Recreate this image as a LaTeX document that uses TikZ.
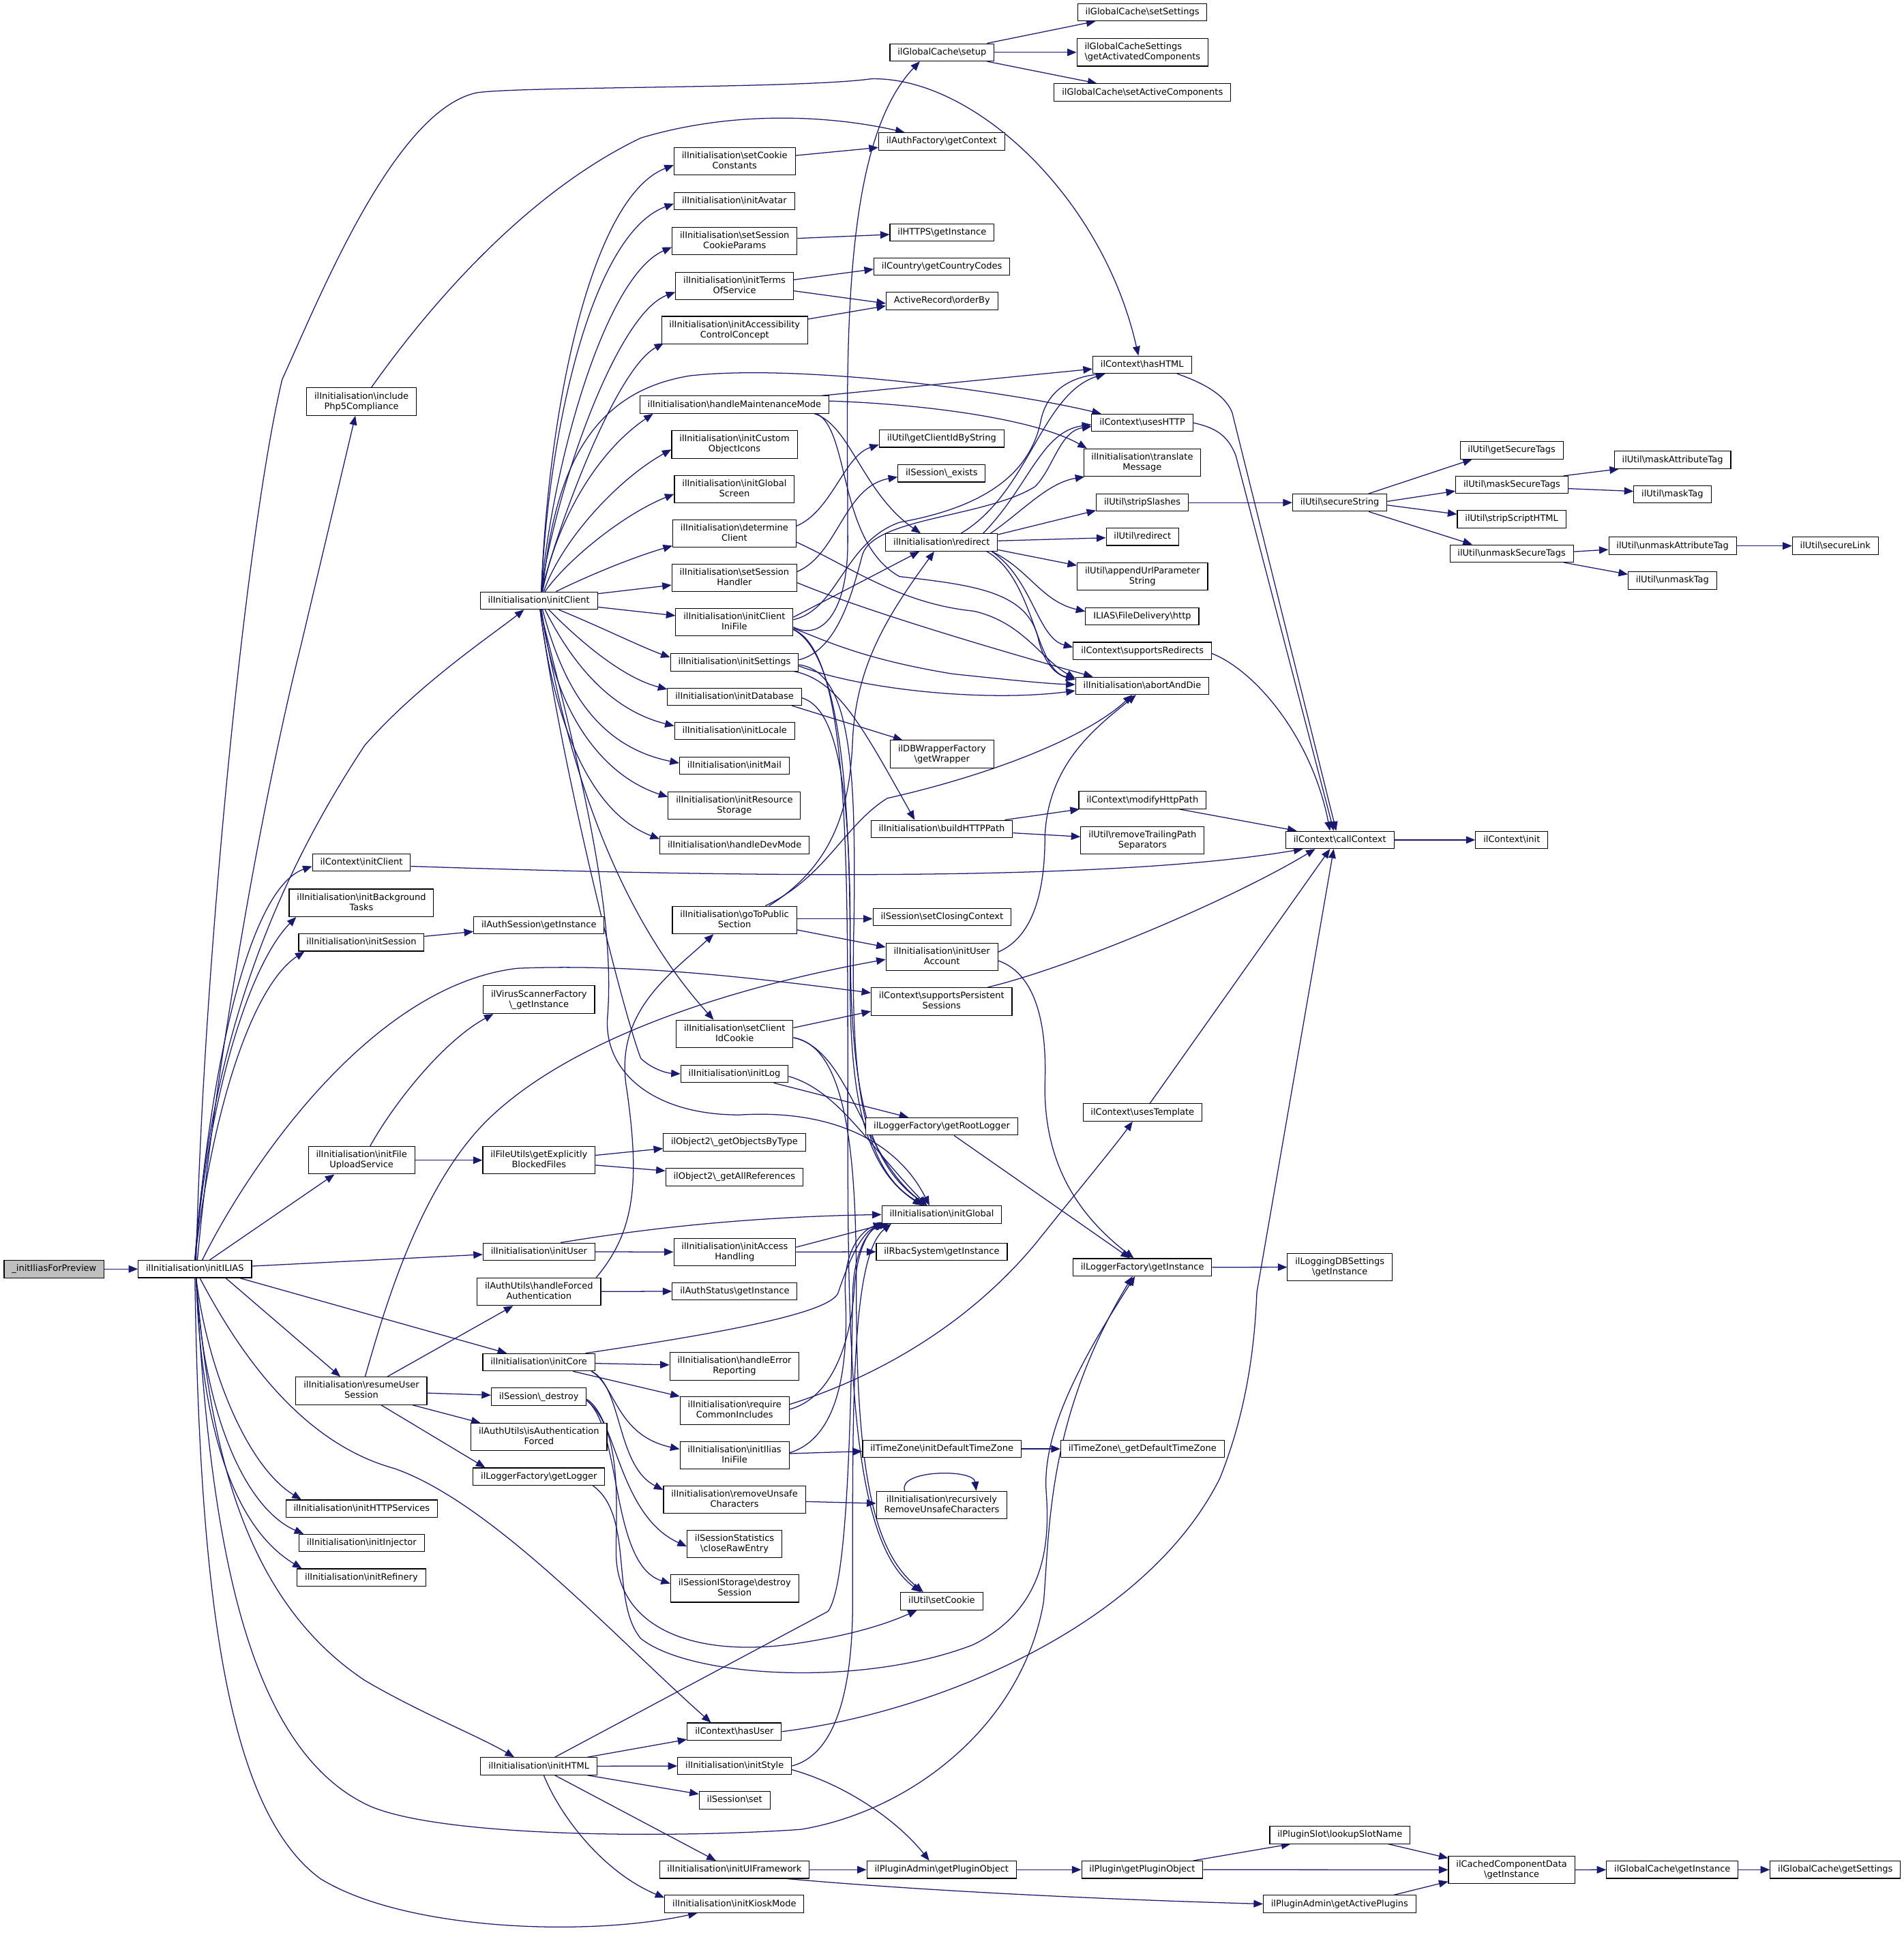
\documentclass[tikz,border=0pt]{standalone}
\usepackage{fontspec}
\setmainfont{DejaVu Sans}
\usetikzlibrary{arrows.meta}
\definecolor{navy}{HTML}{191970}
\definecolor{greyroot}{HTML}{BFBFBF}
\newcommand\bs{\textbackslash}
\newcommand\sst{\rule[-1.6pt]{0pt}{7.1pt}}
\pgfdeclarelayer{bglayer}
\pgfdeclarelayer{edgelayer}
\pgfsetlayers{bglayer,edgelayer,main}
\tikzset{
  nd/.style={draw=black, line width=0.6pt, fill=white, inner xsep=6.3pt, inner ysep=3.5pt,
    font=\fontsize{7.2}{8.3}\selectfont, align=center},
  edg/.style={draw=navy, line width=0.7pt, -{Triangle[length=7.5pt,width=6pt]}}
}
\begin{document}
\begin{tikzpicture}[x=1pt,y=-1pt]
\begin{pgfonlayer}{bglayer}
\path[use as bounding box, fill=white] (0,0) rectangle (1545,1569.3);
\end{pgfonlayer}
% ---------- nodes ----------
\node[nd,fill=greyroot] (root) at (43.9,1030.1) {\_initIliasForPreview\sst};
\node[nd] (initILIAS) at (158.2,1030.1) {ilInitialisation\bs initILIAS\sst};
% column C
\node[nd] (php5) at (293.4,326) {ilInitialisation\bs include\sst\\Php5Compliance\sst};
\node[nd] (ctxInitClient) at (293.3,700.2) {ilContext\bs initClient\sst};
\node[nd] (bgTasks) at (293.3,732.9) {ilInitialisation\bs initBackground\sst\\Tasks\sst};
\node[nd] (initSession) at (293.3,765) {ilInitialisation\bs initSession\sst};
\node[nd] (fileUpload) at (293.4,941.8) {ilInitialisation\bs initFile\sst\\UploadService\sst};
\node[nd] (resumeUser) at (293.3,1129) {ilInitialisation\bs resumeUser\sst\\Session\sst};
\node[nd] (httpServ) at (293.5,1224.6) {ilInitialisation\bs initHTTPServices\sst};
\node[nd] (injector) at (293.5,1252.5) {ilInitialisation\bs initInjector\sst};
\node[nd] (refinery) at (293.3,1280.5) {ilInitialisation\bs initRefinery\sst};
% column D
\node[nd] (initClient) at (437.3,487.5) {ilInitialisation\bs initClient\sst};
\node[nd] (authSession) at (437.4,751.1) {ilAuthSession\bs getInstance\sst};
\node[nd] (virus) at (437.4,811.5) {ilVirusScannerFactory\sst\\\bs\_getInstance\sst};
\node[nd] (fileUtils) at (437.4,941.8) {ilFileUtils\bs getExplicitly\sst\\BlockedFiles\sst};
\node[nd] (initUser) at (437.4,1016) {ilInitialisation\bs initUser\sst};
\node[nd] (forcedAuth) at (437.4,1048.5) {ilAuthUtils\bs handleForced\sst\\Authentication\sst};
\node[nd] (initCore) at (437.3,1105.8) {ilInitialisation\bs initCore\sst};
\node[nd] (sessDestroy) at (437.3,1133.8) {ilSession\bs\_destroy\sst};
\node[nd] (isAuthForced) at (437.4,1166.5) {ilAuthUtils\bs isAuthentication\sst\\Forced\sst};
\node[nd] (getLogger) at (437.4,1198.6) {ilLoggerFactory\bs getLogger\sst};
\node[nd] (initHTML) at (437.3,1433.7) {ilInitialisation\bs initHTML\sst};
% column E
\node[nd] (setCookieConst) at (596.2,131) {ilInitialisation\bs setCookie\sst\\Constants\sst};
\node[nd] (initAvatar) at (596,163.3) {ilInitialisation\bs initAvatar\sst};
\node[nd] (setSessCookie) at (596.2,195.6) {ilInitialisation\bs setSession\sst\\CookieParams\sst};
\node[nd] (initTerms) at (596.1,232.1) {ilInitialisation\bs initTerms\sst\\OfService\sst};
\node[nd] (initAccess) at (596.2,268) {ilInitialisation\bs initAccessibility\sst\\ControlConcept\sst};
\node[nd] (maint) at (596,328.5) {ilInitialisation\bs handleMaintenanceMode\sst};
\node[nd] (customIcons) at (596.1,360.8) {ilInitialisation\bs initCustom\sst\\ObjectIcons\sst};
\node[nd] (globalScreen) at (596,397) {ilInitialisation\bs initGlobal\sst\\Screen\sst};
\node[nd] (determineClient) at (596,433) {ilInitialisation\bs determine\sst\\Client\sst};
\node[nd] (sessHandler) at (596,469) {ilInitialisation\bs setSession\sst\\Handler\sst};
\node[nd] (clientIni) at (596,505) {ilInitialisation\bs initClient\sst\\IniFile\sst};
\node[nd] (initSettings) at (596.1,537.6) {ilInitialisation\bs initSettings\sst};
\node[nd] (initDatabase) at (596.1,565.5) {ilInitialisation\bs initDatabase\sst};
\node[nd] (initLocale) at (596.2,593.3) {ilInitialisation\bs initLocale\sst};
\node[nd] (initMail) at (596,621.4) {ilInitialisation\bs initMail\sst};
\node[nd] (resStorage) at (596,653.9) {ilInitialisation\bs initResource\sst\\Storage\sst};
\node[nd] (devMode) at (596.2,686) {ilInitialisation\bs handleDevMode\sst};
\node[nd] (goToPublic) at (596.1,746.8) {ilInitialisation\bs goToPublic\sst\\Section\sst};
\node[nd] (clientIdCookie) at (596.2,839.3) {ilInitialisation\bs setClient\sst\\IdCookie\sst};
\node[nd] (initLog) at (596.1,871.7) {ilInitialisation\bs initLog\sst};
\node[nd] (objByType) at (596,927.3) {ilObject2\bs\_getObjectsByType\sst};
\node[nd] (allRefs) at (596,955.4) {ilObject2\bs\_getAllReferences\sst};
\node[nd] (accessHandling) at (596.3,1016.4) {ilInitialisation\bs initAccess\sst\\Handling\sst};
\node[nd] (authStatus) at (596.3,1048.1) {ilAuthStatus\bs getInstance\sst};
\node[nd] (errorRep) at (596.1,1109) {ilInitialisation\bs handleError\sst\\Reporting\sst};
\node[nd] (commonInc) at (596.2,1145) {ilInitialisation\bs require\sst\\CommonIncludes\sst};
\node[nd] (iliasIni) at (596.1,1181.3) {ilInitialisation\bs initIlias\sst\\IniFile\sst};
\node[nd] (removeUnsafe) at (596.1,1217.4) {ilInitialisation\bs removeUnsafe\sst\\Characters\sst};
\node[nd] (closeRaw) at (596.1,1253.3) {ilSessionStatistics\sst\\\bs closeRawEntry\sst};
\node[nd] (destroySess) at (596.2,1289.4) {ilSessionIStorage\bs destroy\sst\\Session\sst};
\node[nd] (hasUser) at (596,1405.6) {ilContext\bs hasUser\sst};
\node[nd] (initStyle) at (596.2,1433.5) {ilInitialisation\bs initStyle\sst};
\node[nd] (sessSet) at (596.2,1461.3) {ilSession\bs set\sst};
\node[nd] (uiFramework) at (596,1517.7) {ilInitialisation\bs initUIFramework\sst};
\node[nd] (kiosk) at (596,1545.5) {ilInitialisation\bs initKioskMode\sst};
% column F
\node[nd] (gcSetup) at (764.5,42.5) {ilGlobalCache\bs setup\sst};
\node[nd] (authFactory) at (764.2,114.8) {ilAuthFactory\bs getContext\sst};
\node[nd] (https) at (764.5,188.6) {ilHTTPS\bs getInstance\sst};
\node[nd] (country) at (764.4,216.5) {ilCountry\bs getCountryCodes\sst};
\node[nd] (orderBy) at (764.5,244.3) {ActiveRecord\bs orderBy\sst};
\node[nd] (clientIdByString) at (764.2,356) {ilUtil\bs getClientIdByString\sst};
\node[nd] (sessExists) at (764.2,384.2) {ilSession\bs\_exists\sst};
\node[nd] (redirectI) at (764.2,440.3) {ilInitialisation\bs redirect\sst};
\node[nd] (dbWrapper) at (764.5,612.2) {ilDBWrapperFactory\sst\\\bs getWrapper\sst};
\node[nd] (buildPath) at (764.3,672.9) {ilInitialisation\bs buildHTTPPath\sst};
\node[nd] (closingCtx) at (764.5,744.3) {ilSession\bs setClosingContext\sst};
\node[nd] (userAccount) at (764.4,776.8) {ilInitialisation\bs initUser\sst\\Account\sst};
\node[nd] (persistent) at (764.2,812.9) {ilContext\bs supportsPersistent\sst\\Sessions\sst};
\node[nd] (rootLogger) at (764.3,914.4) {ilLoggerFactory\bs getRootLogger\sst};
\node[nd] (initGlobal) at (764.3,985.9) {ilInitialisation\bs initGlobal\sst};
\node[nd] (rbac) at (764.3,1016) {ilRbacSystem\bs getInstance\sst};
\node[nd] (initTZ) at (764.4,1176.1) {ilTimeZone\bs initDefaultTimeZone\sst};
\node[nd] (recursive) at (764.3,1221.7) {ilInitialisation\bs recursively\sst\\RemoveUnsafeCharacters\sst};
\node[nd] (setCookie) at (764.3,1299.7) {ilUtil\bs setCookie\sst};
\node[nd] (pluginObj) at (764.2,1517.7) {ilPluginAdmin\bs getPluginObject\sst};
% column G
\node[nd] (gcSetSettings) at (927.1,9.9) {ilGlobalCache\bs setSettings\sst};
\node[nd,align=left] (gcActivated) at (927.2,42.5) {ilGlobalCacheSettings\sst\\\bs getActivatedComponents\sst};
\node[nd] (gcSetActive) at (927.2,75) {ilGlobalCache\bs setActiveComponents\sst};
\node[nd] (hasHTML) at (926.9,296) {ilContext\bs hasHTML\sst};
\node[nd] (usesHTTP) at (927.1,343.2) {ilContext\bs usesHTTP\sst};
\node[nd] (translate) at (927,375.5) {ilInitialisation\bs translate\sst\\Message\sst};
\node[nd] (stripSlashes) at (927.1,408) {ilUtil\bs stripSlashes\sst};
\node[nd] (utilRedirect) at (927.2,435.7) {ilUtil\bs redirect\sst};
\node[nd] (appendUrl) at (927.2,468) {ilUtil\bs appendUrlParameter\sst\\String\sst};
\node[nd] (fileDelivery) at (927,500.3) {ILIAS\bs FileDelivery\bs http\sst};
\node[nd] (suppRedirects) at (927.1,528.4) {ilContext\bs supportsRedirects\sst};
\node[nd] (abort) at (927,556.7) {ilInitialisation\bs abortAndDie\sst};
\node[nd] (modifyPath) at (927.2,649.5) {ilContext\bs modifyHttpPath\sst};
\node[nd] (removeTrailing) at (927.2,682) {ilUtil\bs removeTrailingPath\sst\\Separators\sst};
\node[nd] (usesTemplate) at (927.2,903) {ilContext\bs usesTemplate\sst};
\node[nd] (loggerInst) at (927.1,1028.7) {ilLoggerFactory\bs getInstance\sst};
\node[nd] (getDefTZ) at (927.2,1176.1) {ilTimeZone\bs\_getDefaultTimeZone\sst};
\node[nd] (pluginGetObj) at (927,1517.7) {ilPlugin\bs getPluginObject\sst};
% column H
\node[nd] (secureString) at (1087.3,408) {ilUtil\bs secureString\sst};
\node[nd] (callContext) at (1087.4,681.8) {ilContext\bs callContext\sst};
\node[nd] (loggingDB) at (1087.4,1028.6) {ilLoggingDBSettings\sst\\\bs getInstance\sst};
\node[nd] (lookupSlot) at (1087.4,1489.5) {ilPluginSlot\bs lookupSlotName\sst};
\node[nd] (activePlugins) at (1087.2,1545.5) {ilPluginAdmin\bs getActivePlugins\sst};
% column I
\node[nd] (getSecureTags) at (1226.8,365.5) {ilUtil\bs getSecureTags\sst};
\node[nd] (maskSecureTags) at (1227,393.6) {ilUtil\bs maskSecureTags\sst};
\node[nd] (stripScript) at (1226.8,421.4) {ilUtil\bs stripScriptHTML\sst};
\node[nd] (unmaskSecureTags) at (1226.8,449.3) {ilUtil\bs unmaskSecureTags\sst};
\node[nd] (ctxInit) at (1226.9,681.8) {ilContext\bs init\sst};
\node[nd] (cachedComp) at (1226.8,1517.8) {ilCachedComponentData\sst\\\bs getInstance\sst};
% column J
\node[nd] (maskAttr) at (1357.4,373.3) {ilUtil\bs maskAttributeTag\sst};
\node[nd] (maskTag) at (1357.3,401.3) {ilUtil\bs maskTag\sst};
\node[nd] (unmaskAttr) at (1357.4,443.1) {ilUtil\bs unmaskAttributeTag\sst};
\node[nd] (unmaskTag) at (1357.3,471.2) {ilUtil\bs unmaskTag\sst};
\node[nd] (gcGetInstance) at (1357.2,1517.7) {ilGlobalCache\bs getInstance\sst};
% column K
\node[nd] (secureLink) at (1489.5,443.1) {ilUtil\bs secureLink\sst};
\node[nd] (gcGetSettings) at (1489.5,1517.7) {ilGlobalCache\bs getSettings\sst};

% ---------- edges ----------
\begin{pgfonlayer}{edgelayer}
\draw[edg] (root) -- (initILIAS);
% initILIAS
\draw[edg] ([xshift=2pt]initILIAS.north) .. controls (175,860) and (215,640) .. (244,525) -- ([xshift=-5pt]php5.south);
\draw[edg] ([xshift=1pt]initILIAS.north) .. controls (165,780) and (200,430) .. (229,308) .. controls (260,240) and (320,90) .. (386.7,75.3) .. controls (420,70) and (650,72) .. (707,64) .. controls (790,62) and (895,160) .. ([xshift=-3pt]hasHTML.north);
\draw[edg] (initILIAS.north) .. controls (172,850) and (205,720) .. ([yshift=-3pt]ctxInitClient.west);
\draw[edg] (initILIAS.north) .. controls (170,880) and (205,780) .. ([xshift=6pt]bgTasks.south west);
\draw[edg] (initILIAS.north) .. controls (172,900) and (205,800) .. ([xshift=5pt]initSession.south west);
\draw[edg] (initILIAS.north) .. controls (170,850) and (220,720) .. (296,605) .. controls (340,555) and (400,515) .. ([xshift=-12pt]initClient.south);
\draw[edg] ([xshift=12pt]initILIAS.north) -- ([xshift=-22pt]fileUpload.south);
\draw[edg] (initILIAS) -- (initUser);
\draw[edg] ([xshift=6pt]initILIAS.north) .. controls (200,950) and (300,800) .. (420,786) .. controls (520,782) and (620,795) .. ([yshift=7pt]persistent.west);
\draw[edg] ([xshift=25pt]initILIAS.south) -- ([xshift=-17pt]resumeUser.north);
\draw[edg] ([xshift=-10pt]initILIAS.south east) -- ([xshift=-26pt]initCore.north);
\draw[edg] ([xshift=4pt]initILIAS.south) .. controls (190,1090) and (240,1170) .. (320,1192) .. controls (400,1220) and (500,1330) .. ([xshift=-19pt]hasUser.north);
\draw[edg] ([xshift=1pt]initILIAS.south) .. controls (168,1110) and (200,1190) .. ([xshift=-49pt]httpServ.north);
\draw[edg] ([xshift=1pt]initILIAS.south) .. controls (165,1150) and (200,1225) .. ([xshift=4pt]injector.north west);
\draw[edg] ([xshift=1pt]initILIAS.south) .. controls (163,1160) and (190,1240) .. ([xshift=4pt]refinery.north west);
\draw[edg] ([xshift=1pt]initILIAS.south) .. controls (170,1180) and (200,1300) .. (296,1364) .. controls (340,1390) and (390,1410) .. ([xshift=-20pt]initHTML.north);
\draw[edg] ([xshift=1pt]initILIAS.south) .. controls (170,1250) and (200,1420) .. (300,1466) .. controls (360,1492) and (550,1492) .. (650,1485) .. controls (740,1470) and (830,1400) .. (847,1300) .. controls (852,1240) and (850,1150) .. ([xshift=-8pt]loggerInst.south);
\draw[edg] (initILIAS.south) .. controls (162,1300) and (185,1470) .. (260,1525) .. controls (330,1568) and (480,1572) .. ([xshift=-30pt]kiosk.south);
% php5
\draw[edg] ([xshift=8pt]php5.north) .. controls (340,260) and (420,160) .. (520,112) .. controls (600,88) and (680,95) .. ([xshift=-30pt]authFactory.north);
% initClient up
\draw[edg] ([xshift=2pt]initClient.north) .. controls (445,330) and (480,160) .. ([yshift=-3pt]setCookieConst.west);
\draw[edg] ([xshift=2pt]initClient.north) .. controls (445,350) and (480,190) .. ([yshift=-2pt]initAvatar.west);
\draw[edg] ([xshift=2pt]initClient.north) .. controls (448,380) and (490,225) .. ([yshift=-5pt]setSessCookie.west);
\draw[edg] ([xshift=2pt]initClient.north) .. controls (450,400) and (500,255) .. ([yshift=-5pt]initTerms.west);
\draw[edg] ([xshift=2pt]initClient.north) .. controls (455,420) and (500,300) .. ([xshift=2pt,yshift=1pt]initAccess.south west);
\draw[edg] ([xshift=3pt]initClient.north) .. controls (450,380) and (480,318) .. (560,305) .. controls (650,295) and (820,318) .. ([xshift=8pt]usesHTTP.north west);
\draw[edg] ([xshift=3pt]initClient.north) .. controls (450,430) and (480,370) .. ([xshift=-66pt]maint.south);
\draw[edg] ([xshift=4pt]initClient.north) .. controls (455,440) and (500,390) .. ([yshift=-4pt]customIcons.west);
\draw[edg] ([xshift=5pt]initClient.north) .. controls (460,455) and (505,418) .. ([yshift=-4pt]globalScreen.west);
\draw[edg] ([xshift=14pt]initClient.north) .. controls (480,466) and (515,452) .. ([yshift=1.5pt]determineClient.south west);
\draw[edg] (initClient) -- (sessHandler);
\draw[edg] (initClient) -- (clientIni);
% initClient down
\draw[edg] ([xshift=16pt]initClient.south) .. controls (490,510) and (520,525) .. ([yshift=4pt]initSettings.west);
\draw[edg] ([xshift=8pt]initClient.south) .. controls (470,520) and (505,550) .. ([yshift=6pt]initDatabase.west);
\draw[edg] ([xshift=5pt]initClient.south) .. controls (460,530) and (490,575) .. ([yshift=4pt]initLocale.west);
\draw[edg] ([xshift=3pt]initClient.south) .. controls (455,550) and (480,605) .. ([yshift=2pt]initMail.west);
\draw[edg] ([xshift=2pt]initClient.south) .. controls (450,580) and (490,630) .. ([yshift=7pt]resStorage.west);
\draw[edg] ([xshift=1pt]initClient.south) .. controls (450,590) and (480,660) .. ([yshift=5pt]devMode.west);
\draw[edg] ([xshift=2pt]initClient.south) .. controls (460,620) and (500,740) .. ([xshift=-17pt]clientIdCookie.north);
\draw[edg] ([xshift=1pt]initClient.south) .. controls (455,620) and (505,820) .. (520,859) .. controls (528,867) and (540,871) .. (initLog.west);
\draw[edg] ([xshift=1pt]initClient.south) .. controls (470,620) and (500,740) .. (493,826) .. controls (490,870) and (530,905) .. (600,905) .. controls (680,900) and (730,930) .. ([xshift=-10pt]initGlobal.north);
% column E outgoing
\draw[edg] (setCookieConst) -- (authFactory);
\draw[edg] (setSessCookie) -- (https);
\draw[edg] ([yshift=5pt]initTerms.east) -- ([yshift=-2pt]country.west);
\draw[edg] ([yshift=-4pt]initTerms.east) -- ([yshift=-2pt]orderBy.west);
\draw[edg] ([yshift=9pt]initAccess.east) -- ([yshift=-4pt]orderBy.west);
\draw[edg] ([xshift=-6pt]maint.north east) -- ([yshift=-3.5pt]hasHTML.west);
\draw[edg] ([yshift=3pt]maint.east) .. controls (750,328) and (840,340) .. ([xshift=3pt]translate.north west);
\draw[edg] ([xshift=-12pt]maint.south east) .. controls (690,345) and (700,400) .. ([xshift=-17pt]redirectI.north);
\draw[edg] ([xshift=-10pt]maint.south east) .. controls (690,350) and (680,440) .. (730,468) .. controls (790,475) and (835,480) .. (843,520) .. controls (848,540) and (858,548) .. ([yshift=5pt]abort.west);
\draw[edg] ([yshift=6pt]determineClient.east) .. controls (675,415) and (685,370) .. ([yshift=-5pt]clientIdByString.west);
\draw[edg] ([yshift=-7pt]determineClient.east) .. controls (690,460) and (730,490) .. (790,496) .. controls (830,505) and (845,535) .. ([yshift=6pt]abort.west);
\draw[edg] ([yshift=5pt]sessHandler.east) .. controls (680,450) and (685,395) .. ([yshift=-3pt]sessExists.west);
\draw[edg] ([yshift=-4pt]sessHandler.east) .. controls (700,495) and (800,525) .. ([xshift=-40pt]abort.north);
\draw[edg] ([yshift=4pt]clientIni.east) -- ([xshift=-18pt]redirectI.south);
\draw[edg] ([yshift=2pt]clientIni.east) .. controls (680,495) and (685,440) .. (730,424) .. controls (780,415) and (835,395) .. (845,340) .. controls (852,310) and (880,305) .. ([xshift=-30pt]hasHTML.south);
\draw[edg] ([yshift=-4pt]clientIni.east) .. controls (665,520) and (688,500) .. (688,440) .. controls (688,300) and (680,120) .. ([xshift=-18pt]gcSetup.south);
\draw[edg] ([yshift=-6pt]clientIni.east) .. controls (690,530) and (688,700) .. (688,900) .. controls (688,1100) and (690,1250) .. ([xshift=-17pt]setCookie.north);
\draw[edg] ([yshift=-5pt]clientIni.east) .. controls (670,520) and (700,535) .. (773,547) .. controls (820,552) and (850,555) .. ([yshift=1pt]abort.west);
\draw[edg] ([yshift=-6pt]clientIni.east) .. controls (690,535) and (690,700) .. (690,800) .. controls (690,900) and (705,950) .. ([xshift=-16pt]initGlobal.north);
% initSettings
\draw[edg] ([xshift=-4pt]initSettings.south east) .. controls (680,552) and (700,590) .. ([xshift=-22pt]buildPath.north);
\draw[edg] ([yshift=-3pt]initSettings.east) .. controls (700,560) and (800,570) .. ([yshift=-4pt]abort.west);
\draw[edg] ([yshift=2pt]initSettings.east) .. controls (680,528) and (692,480) .. (700,450) .. controls (710,420) and (800,420) .. (840,395) .. controls (855,380) and (860,350) .. ([yshift=-3pt]usesHTTP.west);
\draw[edg] ([yshift=-2pt]initSettings.east) .. controls (690,545) and (695,620) .. (693,750) .. controls (690,880) and (700,950) .. ([xshift=-14pt]initGlobal.north);
% initDatabase
\draw[edg] ([xshift=-8pt]initDatabase.south east) -- ([xshift=-32pt]dbWrapper.north);
\draw[edg] ([yshift=-1pt]initDatabase.east) .. controls (680,575) and (690,640) .. (690,760) .. controls (690,890) and (705,945) .. ([xshift=-12pt]initGlobal.north);
% buildPath / context
\draw[edg] (buildPath) -- (modifyPath);
\draw[edg] (buildPath) -- (removeTrailing);
\draw[edg] ([xshift=-22pt]modifyPath.south east) -- ([xshift=-35pt]callContext.north);
\draw[edg] (callContext) -- (ctxInit);
\draw[edg] ([yshift=-3pt]ctxInitClient.east) .. controls (600,712) and (900,716) .. ([xshift=-30pt]callContext.south);
\draw[edg] ([xshift=-20pt]persistent.north east) .. controls (870,785) and (1000,730) .. ([xshift=-20pt]callContext.south);
\draw[edg] ([xshift=6pt]usesTemplate.north) -- ([xshift=-8pt]callContext.south);
\draw[edg] (hasUser.east) .. controls (760,1390) and (930,1320) .. (990,1200) .. controls (1010,1150) and (1018,1100) .. (1020,1049) -- ([xshift=-5pt]callContext.south);
\draw[edg] ([xshift=-12pt]hasHTML.south east) .. controls (980,312) and (995,322) .. (1000,335) -- ([xshift=-3pt]callContext.north);
\draw[edg] (usesHTTP.east) .. controls (985,347) and (996,352) .. (1003,370) -- ([xshift=-5pt]callContext.north);
\draw[edg] ([yshift=-2pt]suppRedirects.east) .. controls (1020,545) and (1065,600) .. ([xshift=-8pt]callContext.north);
% redirect
\draw[edg] ([xshift=-30pt]redirectI.north east) .. controls (835,400) and (845,320) .. ([xshift=-30pt]hasHTML.south);
\draw[edg] ([xshift=-12pt]redirectI.north east) .. controls (835,395) and (845,350) .. ([yshift=-1.5pt]usesHTTP.west);
\draw[edg] ([xshift=-6pt]redirectI.north east) .. controls (830,415) and (850,392) .. ([xshift=1pt]translate.south west);
\draw[edg] ([yshift=-1pt]redirectI.north east) -- ([yshift=1pt]stripSlashes.south west);
\draw[edg] (redirectI) -- (utilRedirect);
\draw[edg] ([yshift=-6pt]redirectI.east) -- ([yshift=9pt]appendUrl.west);
\draw[edg] ([xshift=-5pt]redirectI.south east) .. controls (835,462) and (845,488) .. ([yshift=4pt]fileDelivery.west);
\draw[edg] ([xshift=-5pt]redirectI.south east) .. controls (838,470) and (842,518) .. ([yshift=3pt]suppRedirects.west);
\draw[edg] ([xshift=-9pt]redirectI.south east) .. controls (840,470) and (840,545) .. ([yshift=6pt]abort.west);
% secure string family
\draw[edg] (stripSlashes) -- (secureString);
\draw[edg] ([xshift=-15pt]secureString.north east) -- ([xshift=-32pt]getSecureTags.south);
\draw[edg] ([yshift=1pt]secureString.east) -- ([yshift=-5pt]maskSecureTags.west);
\draw[edg] ([yshift=-2pt]secureString.east) -- ([yshift=4pt]stripScript.west);
\draw[edg] ([xshift=-15pt]secureString.south east) -- ([xshift=-32pt]unmaskSecureTags.north);
\draw[edg] ([xshift=-4pt]maskSecureTags.north east) -- ([xshift=4pt]maskAttr.south west);
\draw[edg] ([yshift=-3pt]maskSecureTags.east) -- ([yshift=2.5pt]maskTag.west);
\draw[edg] ([yshift=1.5pt]unmaskSecureTags.east) -- ([yshift=-3pt]unmaskAttr.west);
\draw[edg] ([xshift=-8pt]unmaskSecureTags.south east) -- ([yshift=5pt]unmaskTag.west);
\draw[edg] (unmaskAttr) -- (secureLink);
% global cache setup
\draw[edg] ([xshift=-6pt]gcSetup.north east) -- ([xshift=-38pt]gcSetSettings.south);
\draw[edg] (gcSetup) -- (gcActivated);
\draw[edg] ([xshift=-6pt]gcSetup.south east) -- ([xshift=-37pt]gcSetActive.north);
% session / file upload
\draw[edg] (initSession) -- (authSession);
\draw[edg] ([xshift=7pt]fileUpload.north) .. controls (320,895) and (360,845) .. ([xshift=-37pt]virus.south);
\draw[edg] (fileUpload) -- (fileUtils);
\draw[edg] ([yshift=4pt]fileUtils.east) -- ([yshift=-5pt]objByType.west);
\draw[edg] ([yshift=-4pt]fileUtils.east) -- ([yshift=5pt]allRefs.west);
% initUser
\draw[edg] ([xshift=-28pt]initUser.north east) .. controls (520,998) and (600,988) .. (initGlobal.west);
\draw[edg] (initUser) -- (accessHandling);
\draw[edg] ([yshift=4pt]accessHandling.east) -- ([xshift=4pt]initGlobal.south west);
\draw[edg] (accessHandling) -- (rbac);
% forced auth / public section
\draw[edg] (forcedAuth) -- (authStatus);
\draw[edg] ([xshift=-4pt]forcedAuth.north east) .. controls (515,1000) and (520,960) .. (508,880) .. controls (500,820) and (545,790) .. ([xshift=-17pt]goToPublic.south);
\draw[edg] ([yshift=1pt]goToPublic.east) -- ([yshift=-1.5pt]closingCtx.west);
\draw[edg] ([yshift=-8pt]goToPublic.east) -- ([yshift=8pt]userAccount.west);
\draw[edg] ([xshift=25pt]goToPublic.north) .. controls (670,712) and (685,670) .. (720,648) .. controls (800,630) and (880,600) .. ([xshift=-8pt]abort.south);
\draw[edg] ([xshift=28pt]goToPublic.north) .. controls (680,700) and (690,650) .. (692,600) .. controls (695,540) and (720,500) .. ([xshift=-6pt]redirectI.south);
\draw[edg] ([yshift=4pt]userAccount.east) .. controls (840,760) and (848,720) .. (848,680) .. controls (850,620) and (890,590) .. ([xshift=-5pt]abort.south);
\draw[edg] ([yshift=-3pt]userAccount.east) .. controls (840,790) and (850,830) .. (848,880) .. controls (847,950) and (880,990) .. ([xshift=-7pt]loggerInst.north);
% logging
\draw[edg] ([xshift=10pt]rootLogger.south) -- ([xshift=-10pt]loggerInst.north);
\draw[edg] ([xshift=-12pt]initLog.south east) -- ([xshift=-27pt]rootLogger.north);
\draw[edg] ([yshift=-2pt]initLog.east) .. controls (680,885) and (705,930) .. ([xshift=-12pt]initGlobal.north);
\draw[edg] ([yshift=5pt]clientIdCookie.east) -- ([yshift=-8pt]persistent.west);
\draw[edg] ([yshift=-3pt]clientIdCookie.east) .. controls (690,850) and (695,950) .. (695,1050) .. controls (695,1200) and (710,1260) .. ([xshift=-15pt]setCookie.north);
\draw[edg] ([yshift=-3pt]clientIdCookie.east) .. controls (690,852) and (700,940) .. ([xshift=-12pt]initGlobal.north);
\draw[edg] (loggerInst) -- (loggingDB);
% initCore
\draw[edg] ([xshift=-8pt]initCore.north east) .. controls (600,1080) and (672,1065) .. (680,1050) .. controls (690,1020) and (700,1000) .. ([xshift=2pt]initGlobal.south west);
\draw[edg] (initCore) -- (errorRep);
\draw[edg] ([xshift=-18pt]initCore.south east) -- (commonInc.north west);
\draw[edg] ([xshift=-3pt]initCore.south east) .. controls (500,1125) and (500,1165) .. ([yshift=5pt]iliasIni.west);
\draw[edg] ([xshift=-3pt]initCore.south east) .. controls (505,1125) and (500,1190) .. ([yshift=8pt]removeUnsafe.west);
\draw[edg] ([yshift=1pt]commonInc.east) .. controls (675,1135) and (690,1090) .. (693,1050) .. controls (695,1015) and (705,998) .. ([xshift=3pt]initGlobal.south west);
\draw[edg] ([yshift=5pt]commonInc.east) .. controls (720,1115) and (790,1070) .. (840,1010) .. controls (880,960) and (905,930) .. ([xshift=-8pt]usesTemplate.south);
\draw[edg] (iliasIni) -- (initTZ);
\draw[edg] ([yshift=2pt]iliasIni.east) .. controls (672,1170) and (690,1130) .. (686,1050) .. controls (684,1015) and (700,998) .. ([xshift=1pt]initGlobal.south west);
\draw[edg] (initTZ) -- (getDefTZ);
\draw[edg] (removeUnsafe) -- (recursive);
\draw[edg] ([xshift=-30pt]recursive.north) .. controls (728,1193) and (790,1192) .. ([xshift=28pt]recursive.north);
% session destroy / logger
\draw[edg] ([yshift=-2pt]sessDestroy.east) .. controls (500,1150) and (502,1230) .. ([yshift=-2pt]closeRaw.west);
\draw[edg] ([yshift=-3pt]sessDestroy.east) .. controls (505,1160) and (495,1270) .. ([yshift=4pt]destroySess.west);
\draw[edg] ([yshift=-3pt]sessDestroy.east) .. controls (505,1160) and (500,1220) .. (500,1260) .. controls (500,1320) and (560,1345) .. (640,1335) .. controls (690,1328) and (720,1318) .. ([xshift=-20pt]setCookie.south);
\draw[edg] ([xshift=-10pt]getLogger.south east) .. controls (515,1230) and (495,1300) .. (520,1330) .. controls (560,1362) and (700,1370) .. (790,1335) .. controls (850,1305) and (852,1250) .. (849,1210) .. controls (846,1160) and (880,1100) .. ([xshift=-6pt]loggerInst.south);
% resumeUser
\draw[edg] ([xshift=3pt]resumeUser.north) .. controls (310,1070) and (340,960) .. (400,905) .. controls (470,840) and (600,800) .. ([yshift=-2pt]userAccount.west);
\draw[edg] ([xshift=21pt]resumeUser.north) -- ([xshift=-21pt]forcedAuth.south);
\draw[edg] (resumeUser) -- (sessDestroy);
\draw[edg] ([xshift=-12pt]resumeUser.south east) -- ([xshift=8pt]isAuthForced.north west);
\draw[edg] ([xshift=16pt]resumeUser.south) -- ([xshift=10pt]getLogger.north west);
% initHTML
\draw[edg] ([xshift=-8pt]initHTML.north east) -- ([yshift=1pt]hasUser.south west);
\draw[edg] (initHTML) -- (initStyle);
\draw[edg] ([xshift=-8pt]initHTML.south east) -- ([yshift=5pt]sessSet.west);
\draw[edg] ([xshift=13pt]initHTML.south) -- ([xshift=-15pt]uiFramework.north);
\draw[edg] ([xshift=4pt]initHTML.south) .. controls (455,1475) and (490,1520) .. ([yshift=5pt]kiosk.west);
\draw[edg] ([xshift=13pt]initHTML.north) -- (672,1308) .. controls (685,1290) and (690,1200) .. (692,1050) .. controls (693,1015) and (705,997) .. ([xshift=6pt]initGlobal.south west);
\draw[edg] (initStyle.east) .. controls (675,1425) and (692,1380) .. (692,1300) .. controls (692,1150) and (690,1020) .. ([xshift=8pt]initGlobal.south west);
\draw[edg] ([yshift=-3pt]initStyle.east) .. controls (690,1450) and (730,1480) .. ([xshift=-10pt]pluginObj.north);
\draw[edg] (uiFramework) -- (pluginObj);
\draw[edg] ([xshift=-18pt]uiFramework.south east) .. controls (750,1535) and (900,1542) .. (activePlugins.west);
\draw[edg] (pluginObj) -- (pluginGetObj);
\draw[edg] ([xshift=-8pt]pluginGetObj.north east) -- ([xshift=-40pt]lookupSlot.south);
\draw[edg] (pluginGetObj) -- (cachedComp);
\draw[edg] ([xshift=-18pt]lookupSlot.south east) -- ([yshift=-2pt]cachedComp.north west);
\draw[edg] ([xshift=-18pt]activePlugins.north east) -- ([yshift=2pt]cachedComp.south west);
\draw[edg] (cachedComp) -- (gcGetInstance);
\draw[edg] (gcGetInstance) -- (gcGetSettings);
\end{pgfonlayer}
\end{tikzpicture}
\end{document}
